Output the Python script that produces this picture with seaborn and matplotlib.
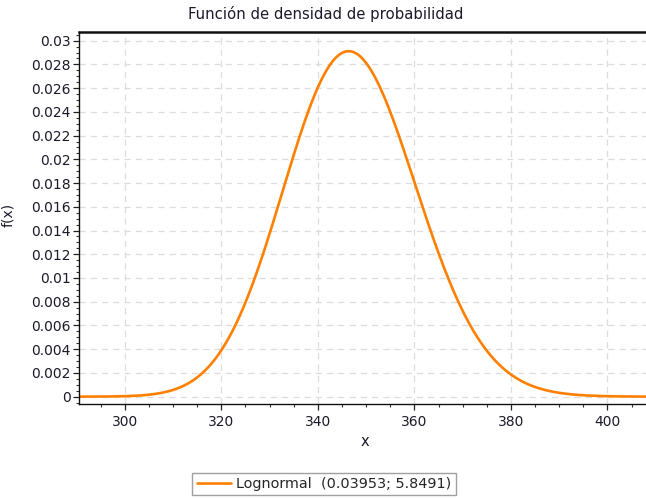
import numpy as np
import pandas as pd
import matplotlib
matplotlib.use("Agg")
import matplotlib.pyplot as plt
from matplotlib.ticker import MultipleLocator
import seaborn as sns

# Lognormal parameters as given in the legend (sigma; mu)
sigma = 0.03953
mu = 5.8491
x_range = [290.5, 408.0]
x_ticks = [300, 320, 340, 360, 380, 400]
y_ticks = [0, 0.002, 0.004, 0.006, 0.008, 0.01, 0.012, 0.014, 0.016, 0.018,
           0.02, 0.022, 0.024, 0.026, 0.028, 0.03]
y_tick_labels = ["0", "0.002", "0.004", "0.006", "0.008", "0.01", "0.012", "0.014",
                 "0.016", "0.018", "0.02", "0.022", "0.024", "0.026", "0.028", "0.03"]
title = "Función de densidad de probabilidad"
legend_label = "Lognormal  (0.03953; 5.8491)"

xs = np.linspace(x_range[0], x_range[1], 800)
pdf = np.exp(-(np.log(xs) - mu) ** 2 / (2 * sigma ** 2)) / (xs * sigma * np.sqrt(2 * np.pi))
df = pd.DataFrame({"x": xs, "f": pdf})

sns.set_theme(style="white")
plt.rcParams["font.family"] = ["DejaVu Sans"]

fig = plt.figure(figsize=(6.46, 4.99), dpi=100)
ax = fig.add_axes([79 / 646, 1 - 404 / 499, 1 - 79 / 646, (404 - 32) / 499])

orange = "#ff8000"
sns.lineplot(data=df, x="x", y="f", ax=ax, color=orange, linewidth=1.9, label=legend_label,
             legend=False)

ax.set_xlim(*x_range)
ax.set_ylim(-0.00062, 0.03073)
ax.set_xticks(x_ticks)
ax.set_yticks(y_ticks)
ax.set_yticklabels(y_tick_labels)
ax.xaxis.set_minor_locator(MultipleLocator(5))
ax.yaxis.set_minor_locator(MultipleLocator(0.0005))

ax.tick_params(axis="both", which="major", direction="out", length=4, width=0.9,
               color="#222222", labelsize=10, labelcolor="#1a1a2a", pad=2,
               bottom=True, left=True)
ax.tick_params(axis="x", which="major", pad=4)
ax.tick_params(axis="both", which="minor", direction="out", length=2.5, width=0.8,
               color="#333333", bottom=True, left=True)

ax.grid(True, which="major", color="#dcdcdc", linestyle=(0, (5, 4)), linewidth=0.9)

for side in ["left", "bottom"]:
    ax.spines[side].set_color("#111111")
    ax.spines[side].set_linewidth(1.0)
ax.spines["top"].set_color("#111111")
ax.spines["top"].set_linewidth(1.8)
ax.spines["right"].set_visible(False)

ax.set_xlabel("")
ax.set_ylabel("")
fig.text(365 / 646, 1 - 441 / 499, "x", ha="center", va="center", fontsize=10.5,
         color="#1a1a2a")
fig.text(8 / 646, 1 - 215 / 499, "f(x)", ha="center", va="center", rotation=90,
         fontsize=10, color="#1a1a2a")
fig.text(326 / 646, 1 - 14 / 499, title, ha="center", va="center", fontsize=10.7,
         color="#1a1a2a")

handles, labels = ax.get_legend_handles_labels()
leg = fig.legend(handles, labels, loc="center", bbox_to_anchor=(324 / 646, 1 - 484 / 499),
                 frameon=True, fancybox=False, edgecolor="#a0a0a0", framealpha=1,
                 fontsize=10.4, handlelength=2.4, handletextpad=0.35, borderpad=0.3)
leg.get_frame().set_linewidth(1.0)

fig.savefig("out.png", dpi=100)
